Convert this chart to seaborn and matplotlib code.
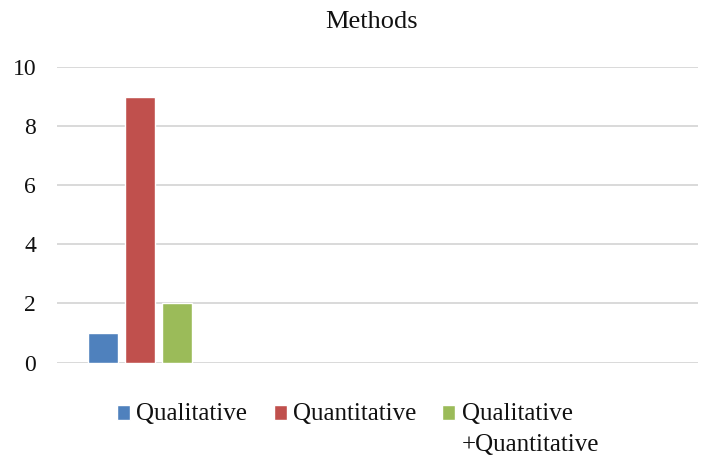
import matplotlib
matplotlib.use("Agg")
import matplotlib.pyplot as plt
from matplotlib.patches import Rectangle
from matplotlib.legend_handler import HandlerPatch
import seaborn as sns
import pandas as pd

categories = ["1", "2", "3", "4"]
methods = ["Qualitative", "Quantitative", "Qualitative+Quantitative"]
legend_labels = ["Qualitative\n", "Quantitative\n", "Qualitative\n+Quantitative"]
values = [1, 9, 2]
colors = ["#4F81BD", "#C0504D", "#9BBB59"]
yticks = [0, 2, 4, 6, 8, 10]

df = pd.DataFrame({
    "category": [categories[0]] * len(methods),
    "method": methods,
    "value": values,
})

sns.set_theme(style="white")
plt.rcParams["font.family"] = ["Liberation Serif", "DejaVu Serif"]

fig = plt.figure(figsize=(7.10, 4.59), dpi=100)
ax = fig.add_axes([0.0803, 0.2102, 0.9027, 0.6438])

sns.barplot(data=df, x="category", y="value", hue="method", order=categories,
            hue_order=methods, palette=colors, width=0.694, gap=0.19,
            saturation=1, ax=ax, legend=True)

shift = -0.016
ax.set_ylim(0, 10)
ax.set_xlim(-0.5 + shift, len(categories) - 0.5 + shift)
ax.set_yticks(yticks)
ax.set_yticklabels([str(t) for t in yticks], fontsize=17, color="#111111")
ax.set_xticks([])
ax.set_xlabel("")
ax.set_ylabel("")
ax.tick_params(axis="y", length=0, pad=15)
ax.yaxis.grid(True, color="#D9D9D9", linewidth=1.4)
ax.set_axisbelow(True)
for s in ax.spines.values():
    s.set_visible(False)

LEG_FS = 18
LINE_SP = 1.55
HALF_STEP = 12.0  # points, lifts the square onto the first label line


def square(legend, orig_handle, xdescent, ydescent, width, height, fontsize):
    return Rectangle((-xdescent, -ydescent + HALF_STEP), width, height)


handles, _ = ax.get_legend_handles_labels()
ax.get_legend().remove()
hmap = {h: HandlerPatch(patch_func=square) for h in handles}
leg = fig.legend(handles, legend_labels, loc="upper left",
                 bbox_to_anchor=(117 / 710, 1 - 403 / 459),
                 ncol=3, frameon=False, fontsize=LEG_FS, handlelength=0.52,
                 handleheight=0.52, handletextpad=0.25, columnspacing=1.05,
                 borderaxespad=0, borderpad=0, handler_map=hmap)
for t in leg.get_texts():
    t.set_linespacing(LINE_SP)
    t.set_color("#111111")

fig.text(372 / 710, 1 - 28 / 459, "Methods", ha="center", va="baseline",
         fontsize=19, color="#111111")

fig.savefig("out.png", dpi=100)
